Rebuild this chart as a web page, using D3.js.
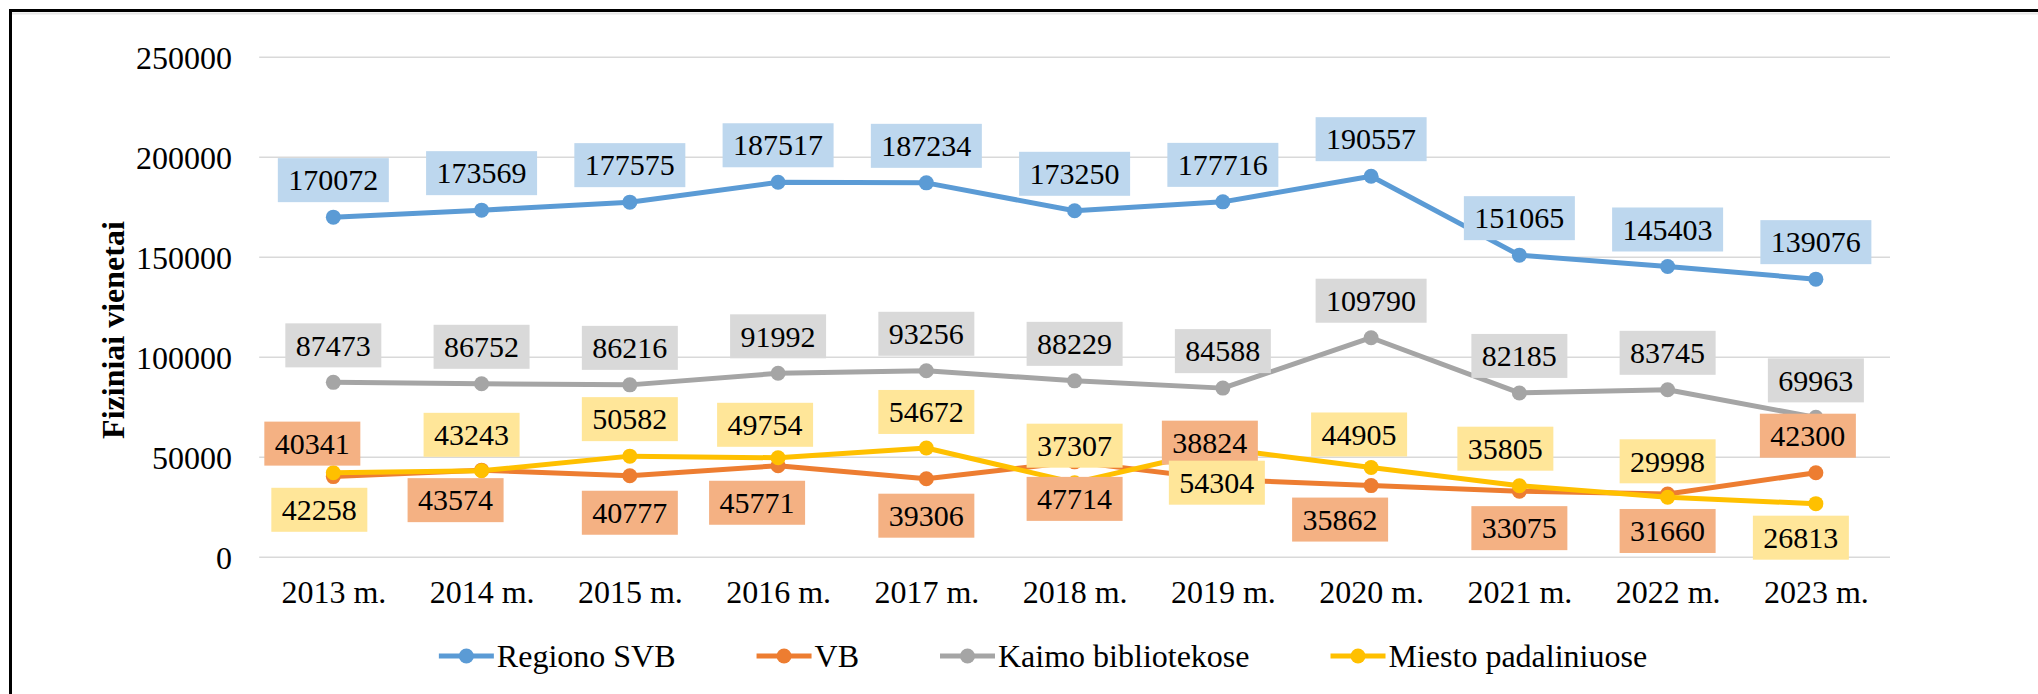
<!DOCTYPE html>
<html>
<head>
<meta charset="utf-8">
<script src="https://cdn.jsdelivr.net/npm/d3@7"></script>
<style>
  html, body { margin: 0; padding: 0; background: #fff; }
  svg { display: block; }
</style>
</head>
<body>
<svg id="chart" width="2038" height="694"></svg>
<script>
// ---- data ----
const years = ["2013 m.", "2014 m.", "2015 m.", "2016 m.", "2017 m.", "2018 m.", "2019 m.", "2020 m.", "2021 m.", "2022 m.", "2023 m."];
const regionoSVB = [170072, 173569, 177575, 187517, 187234, 173250, 177716, 190557, 151065, 145403, 139076];
const vb = [40341, 43574, 40777, 45771, 39306, 47714, 38824, 35862, 33075, 31660, 42300];
const kaimo = [87473, 86752, 86216, 91992, 93256, 88229, 84588, 109790, 82185, 83745, 69963];
const miesto = [42258, 43243, 50582, 49754, 54672, 37307, 54304, 44905, 35805, 29998, 26813];
const yTicks = [0, 50000, 100000, 150000, 200000, 250000];
const seriesNames = ["Regiono SVB", "VB", "Kaimo bibliotekose", "Miesto padaliniuose"];
const yTitle = "Fiziniai vienetai";

// data label placement (side of point: "t" above, "b" below)
const sideAll = ["t","t","t","t","t","t","t","t","t","t","t"];
const vbSide = ["t","b","b","b","b","b","t","b","b","b","t"];
const miestoSide = ["b","t","t","t","t","t","b","t","t","t","b"];
const vbShift = [-21,-26,0,-21,0,0,-13,-31,0,0,-8];
const miestoShift = [-14,-10,0,-13,0,0,-6,-12,-14,0,-15];
const vbGap = [11,8,15,15,15,15,15,12,15,15,15];
const miestoGap = [15,14,15,11,14,15,12,11,15,14,12];

// ---- layout ----
const FONT = "'Liberation Serif', 'Times New Roman', Times, serif";
const svg = d3.select("#chart").style("font-family", FONT);
const W = 2038, H = 694;
const plot = { left: 259.2, right: 1890, top: 57.3, bottom: 557.3 };

const x = d3.scalePoint().domain(years).range([plot.left, plot.right]).padding(0.5);
const y = d3.scaleLinear().domain([0, 250000]).range([plot.bottom, plot.top]);

// frame
svg.append("line").attr("x1", 12).attr("x2", W).attr("y1", 13.5).attr("y2", 13.5)
  .attr("stroke", "#e6e6e6").attr("stroke-width", 2);
svg.append("rect").attr("x", 10.5).attr("y", 10.5).attr("width", 2200).attr("height", 900)
  .attr("fill", "none").attr("stroke", "#000").attr("stroke-width", 3);

// gridlines
svg.append("g").selectAll("line").data(yTicks).join("line")
  .attr("x1", plot.left).attr("x2", plot.right)
  .attr("y1", d => y(d)).attr("y2", d => y(d))
  .attr("stroke", "#d9d9d9").attr("stroke-width", 1.5);

// y axis labels
const yAxis = d3.axisLeft(y).tickValues(yTicks).tickSize(0).tickPadding(0).tickFormat(d3.format("d"));
const gy = svg.append("g").attr("transform", `translate(232,0)`).call(yAxis);
gy.attr("font-family", null).attr("font-size", null);
gy.select(".domain").remove();
gy.selectAll("text").style("font-family", FONT).style("font-size", "32px").attr("fill", "#000")
  .attr("dy", "0.34em").attr("x", 0);

// x axis labels
const xAxis = d3.axisBottom(x).tickSize(0).tickPadding(0);
const gx = svg.append("g").attr("transform", `translate(0,603)`).call(xAxis);
gx.attr("font-family", null).attr("font-size", null);
gx.select(".domain").remove();
gx.selectAll("text").style("font-family", FONT).style("font-size", "32px").attr("fill", "#000")
  .attr("dy", 0).attr("y", 0);

// y title
svg.append("text").attr("transform", "translate(124,330) rotate(-90)")
  .attr("text-anchor", "middle").style("font-family", FONT).style("font-size", "32px")
  .style("font-weight", "bold").attr("fill", "#000").text(yTitle);

// series
const series = [
  { name: seriesNames[0], values: regionoSVB, color: "#5b9bd5", box: "#bdd7ee", side: sideAll, shift: null, gap: null },
  { name: seriesNames[1], values: vb, color: "#ed7d31", box: "#f4b183", side: vbSide, shift: vbShift, gap: vbGap },
  { name: seriesNames[2], values: kaimo, color: "#a5a5a5", box: "#d9d9d9", side: sideAll, shift: null, gap: null },
  { name: seriesNames[3], values: miesto, color: "#ffc000", box: "#ffe699", side: miestoSide, shift: miestoShift, gap: miestoGap }
];

const line = d3.line().x((d, i) => x(years[i])).y(d => y(d));

const gLines = svg.append("g");
series.forEach(s => {
  gLines.append("path").datum(s.values).attr("d", line)
    .attr("fill", "none").attr("stroke", s.color).attr("stroke-width", 5)
    .attr("stroke-linejoin", "round").attr("stroke-linecap", "round");
  gLines.append("g").selectAll("circle").data(s.values).join("circle")
    .attr("cx", (d, i) => x(years[i])).attr("cy", d => y(d)).attr("r", 7.5)
    .attr("fill", s.color);
});

// data labels
const LFS = 30, BOXH = 44, PADX = 10.5;
const gLabels = svg.append("g");
series.forEach(s => {
  s.values.forEach((v, i) => {
    const px = x(years[i]) + (s.shift ? s.shift[i] : 0);
    const py = y(v);
    const gap = s.gap ? s.gap[i] : 15;
    const cy = s.side[i] === "t" ? py - gap - BOXH / 2 : py + gap + BOXH / 2;
    const g = gLabels.append("g");
    const rect = g.append("rect").attr("fill", s.box);
    const t = g.append("text").attr("x", px).attr("y", cy + LFS * 0.34)
      .attr("text-anchor", "middle").style("font-family", FONT).style("font-size", LFS + "px")
      .attr("fill", "#000").text(String(v));
    const tw = t.node().getComputedTextLength();
    rect.attr("x", px - tw / 2 - PADX).attr("y", cy - BOXH / 2)
      .attr("width", tw + 2 * PADX).attr("height", BOXH);
  });
});

// legend
const legend = svg.append("g");
const LEG_Y = 656, LINE_LEN = 55, TEXT_GAP = 3, ITEM_GAP = 81, LEG_CX = 1043;
const items = series.map(s => {
  const g = legend.append("g");
  g.append("line").attr("x1", 0).attr("x2", LINE_LEN).attr("y1", LEG_Y).attr("y2", LEG_Y)
    .attr("stroke", s.color).attr("stroke-width", 5);
  g.append("circle").attr("cx", LINE_LEN / 2).attr("cy", LEG_Y).attr("r", 7.5).attr("fill", s.color);
  const t = g.append("text").attr("x", LINE_LEN + TEXT_GAP).attr("y", 667)
    .style("font-family", FONT).style("font-size", "32px").attr("fill", "#000").text(s.name);
  return { g, w: LINE_LEN + TEXT_GAP + t.node().getComputedTextLength() };
});
const total = d3.sum(items, d => d.w) + ITEM_GAP * (items.length - 1);
let cx = LEG_CX - total / 2;
items.forEach(it => { it.g.attr("transform", `translate(${cx},0)`); cx += it.w + ITEM_GAP; });
</script>
</body>
</html>
